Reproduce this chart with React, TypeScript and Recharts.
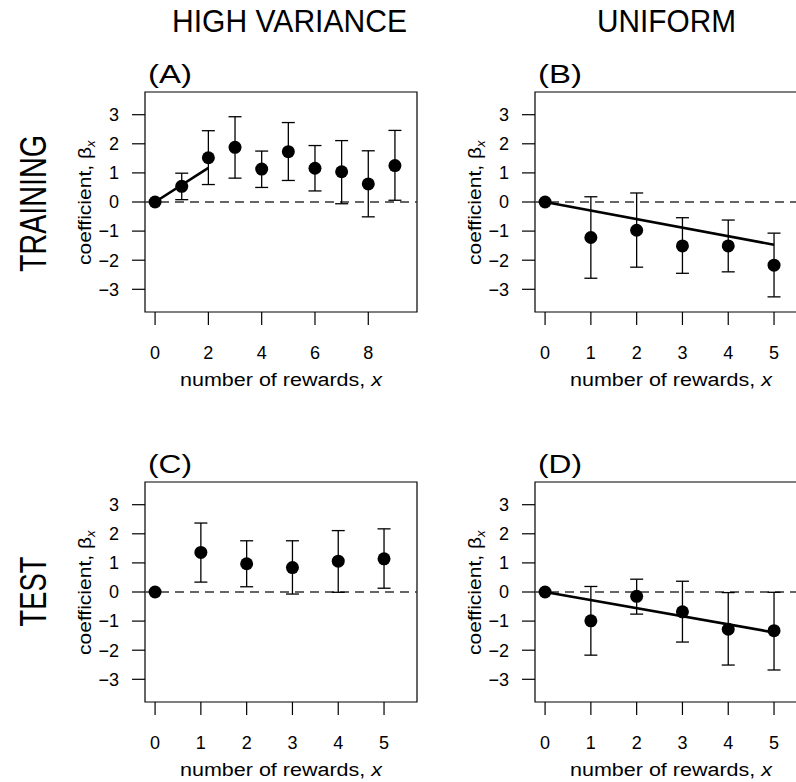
import React from 'react';
import { ScatterChart, Scatter, XAxis, YAxis, ErrorBar, ReferenceLine, ReferenceArea } from 'recharts';

const FONT = '"Liberation Sans", Arial, Helvetica, sans-serif';

// ---- Panel A: training, high variance ----
const rewardsA = [0, 1, 2, 3, 4, 5, 6, 7, 8, 9];
const coefA = [0, 0.54, 1.52, 1.88, 1.13, 1.73, 1.16, 1.04, 0.62, 1.25];
const lowA = [0, 0.08, 0.6, 0.82, 0.5, 0.74, 0.38, -0.06, -0.51, 0.06];
const highA = [0, 0.99, 2.45, 2.93, 1.75, 2.73, 1.94, 2.11, 1.76, 2.46];
const fitXA = [0, 2];
const fitYA = [0, 1.17];

// ---- Panel B: training, uniform ----
const rewardsB = [0, 1, 2, 3, 4, 5];
const coefB = [0, -1.22, -0.97, -1.51, -1.51, -2.17];
const lowB = [0, -2.62, -2.24, -2.45, -2.4, -3.26];
const highB = [0, 0.18, 0.31, -0.54, -0.62, -1.07];
const fitXB = [0, 5];
const fitYB = [0, -1.47];

// ---- Panel C: test, high variance ----
const rewardsC = [0, 1, 2, 3, 4, 5];
const coefC = [0, 1.36, 0.97, 0.84, 1.06, 1.14];
const lowC = [0, 0.34, 0.18, -0.07, -0.01, 0.13];
const highC = [0, 2.37, 1.76, 1.76, 2.11, 2.17];

// ---- Panel D: test, uniform ----
const rewardsD = [0, 1, 2, 3, 4, 5];
const coefD = [0, -0.99, -0.15, -0.68, -1.28, -1.33];
const lowD = [0, -2.17, -0.76, -1.72, -2.51, -2.68];
const highD = [0, 0.19, 0.44, 0.37, -0.02, -0.01];
const fitXD = [0, 5];
const fitYD = [0, -1.39];

// ---- axes ----
const xTicksA = [0, 2, 4, 6, 8];
const xTicksSix = [0, 1, 2, 3, 4, 5];
const yTicks = [-3, -2, -1, 0, 1, 2, 3];
const xDomainA = [-0.378, 9.828];
const xDomainSix = [-0.22, 5.72];
const yDomain = [-3.78, 3.78];

const colTitles = ['HIGH VARIANCE', 'UNIFORM'];
const rowTitles = ['TRAINING', 'TEST'];
const panelLetters = ['(A)', '(B)', '(C)', '(D)'];

const fmt = (v: number) => (v < 0 ? '\u2212' + Math.abs(v) : String(v));

const XTitle = (props: any) => {
  const vb = props.viewBox || { x: 145, y: 312, width: 272, height: 78 };
  return (
    <text
      x={vb.x + vb.width / 2}
      y={vb.y + 74}
      textAnchor="middle"
      fontSize={18}
      fontFamily={FONT}
      fill="#000"
      textLength={202}
      lengthAdjust="spacingAndGlyphs"
    >
      number of rewards, <tspan fontStyle="italic">x</tspan>
    </text>
  );
};

const YTitle = (props: any) => {
  const vb = props.viewBox || { x: 0, y: 92, width: 145, height: 220 };
  const cx = vb.x + 91;
  const cy = vb.y + vb.height / 2 + 63;
  return (
    <text transform={`translate(${cx},${cy}) rotate(-90)`} fontSize={19} fontFamily={FONT} fill="#000">
      <tspan textLength={118} lengthAdjust="spacingAndGlyphs">coefficient, β</tspan>
      <tspan fontSize={13} dy={4} fontStyle="italic">x</tspan>
    </text>
  );
};

const Dot = (p: any) => <circle cx={p.cx} cy={p.cy} r={6.5} fill="#000" />;

function Panel(props: {
  left: number;
  top: number;
  xs: number[];
  coef: number[];
  low: number[];
  high: number[];
  xDomain: number[];
  xTicks: number[];
  fitX?: number[];
  fitY?: number[];
}) {
  const { left, top, xs, coef, low, high, xDomain, xTicks, fitX, fitY } = props;
  const all = xs.map((x, i) => ({ x, y: coef[i], err: [coef[i] - low[i], high[i] - coef[i]], hasErr: high[i] !== low[i] }));
  const withErr = all.filter((d) => d.hasErr);
  const noErr = all.filter((d) => !d.hasErr);
  return (
    <div style={{ position: 'absolute', left, top }}>
      <ScatterChart width={430} height={390} margin={{ top: 92, right: 13, bottom: 0, left: 0 }}>
        <XAxis
          type="number"
          dataKey="x"
          domain={xDomain}
          ticks={xTicks}
          interval={0}
          allowDataOverflow
          height={78}
          tickSize={13}
          tickMargin={21}
          axisLine={false}
          stroke="#000"
          tickLine={{ stroke: '#000', strokeWidth: 1.2 }}
          tick={{ fill: '#000', fontSize: 18, fontFamily: FONT }}
          label={{ content: XTitle }}
        />
        <YAxis
          type="number"
          dataKey="y"
          domain={yDomain}
          ticks={yTicks}
          interval={0}
          allowDataOverflow
          width={145}
          tickSize={13}
          tickMargin={13}
          axisLine={false}
          stroke="#000"
          tickLine={{ stroke: '#000', strokeWidth: 1.2 }}
          tick={{ fill: '#000', fontSize: 18, fontFamily: FONT }}
          tickFormatter={fmt}
          label={{ content: YTitle }}
        />
        <ReferenceArea
          x1={xDomain[0]}
          x2={xDomain[1]}
          y1={yDomain[0]}
          y2={yDomain[1]}
          fill="none"
          fillOpacity={0}
          stroke="#000"
          strokeWidth={1.2}
          ifOverflow="visible"
        />
        <ReferenceLine y={0} stroke="#333" strokeWidth={1.3} strokeDasharray="9 6" />
        {fitX && fitY ? (
          <ReferenceLine
            segment={[
              { x: fitX[0], y: fitY[0] },
              { x: fitX[1], y: fitY[1] },
            ]}
            stroke="#000"
            strokeWidth={2.6}
            ifOverflow="visible"
          />
        ) : null}
        <Scatter data={withErr} shape={Dot} isAnimationActive={false}>
          <ErrorBar dataKey="err" direction="y" width={6.5} stroke="#000" strokeWidth={1.3} isAnimationActive={false} />
        </Scatter>
        <Scatter data={noErr} shape={Dot} isAnimationActive={false} />
      </ScatterChart>
    </div>
  );
}

export default function App() {
  return (
    <div
      style={{
        position: 'absolute',
        left: 0,
        top: 0,
        width: 796,
        height: 782,
        overflow: 'hidden',
        background: '#fff',
        fontFamily: FONT,
      }}
    >
      <Panel left={0} top={0} xs={rewardsA} coef={coefA} low={lowA} high={highA} xDomain={xDomainA} xTicks={xTicksA} fitX={fitXA} fitY={fitYA} />
      <Panel left={390} top={0} xs={rewardsB} coef={coefB} low={lowB} high={highB} xDomain={xDomainSix} xTicks={xTicksSix} fitX={fitXB} fitY={fitYB} />
      <Panel left={0} top={390} xs={rewardsC} coef={coefC} low={lowC} high={highC} xDomain={xDomainSix} xTicks={xTicksSix} />
      <Panel left={390} top={390} xs={rewardsD} coef={coefD} low={lowD} high={highD} xDomain={xDomainSix} xTicks={xTicksSix} fitX={fitXD} fitY={fitYD} />
      <svg width={796} height={782} style={{ position: 'absolute', left: 0, top: 0, pointerEvents: 'none' }}>
        <g fontFamily={FONT} fill="#000">
          <text x={289.5} y={32} fontSize={32} textAnchor="middle" textLength={235} lengthAdjust="spacingAndGlyphs">
            {colTitles[0]}
          </text>
          <text x={666.5} y={32} fontSize={32} textAnchor="middle" textLength={139} lengthAdjust="spacingAndGlyphs">
            {colTitles[1]}
          </text>
          <text transform="translate(46,203.5) rotate(-90)" fontSize={36} textAnchor="middle" textLength={137} lengthAdjust="spacingAndGlyphs">
            {rowTitles[0]}
          </text>
          <text transform="translate(46,591.5) rotate(-90)" fontSize={36} textAnchor="middle" textLength={70} lengthAdjust="spacingAndGlyphs">
            {rowTitles[1]}
          </text>
          <text x={148} y={83} fontSize={25} textLength={44} lengthAdjust="spacingAndGlyphs">{panelLetters[0]}</text>
          <text x={538} y={83} fontSize={25} textLength={44} lengthAdjust="spacingAndGlyphs">{panelLetters[1]}</text>
          <text x={148} y={473} fontSize={25} textLength={44} lengthAdjust="spacingAndGlyphs">{panelLetters[2]}</text>
          <text x={538} y={473} fontSize={25} textLength={44} lengthAdjust="spacingAndGlyphs">{panelLetters[3]}</text>
        </g>
      </svg>
    </div>
  );
}
